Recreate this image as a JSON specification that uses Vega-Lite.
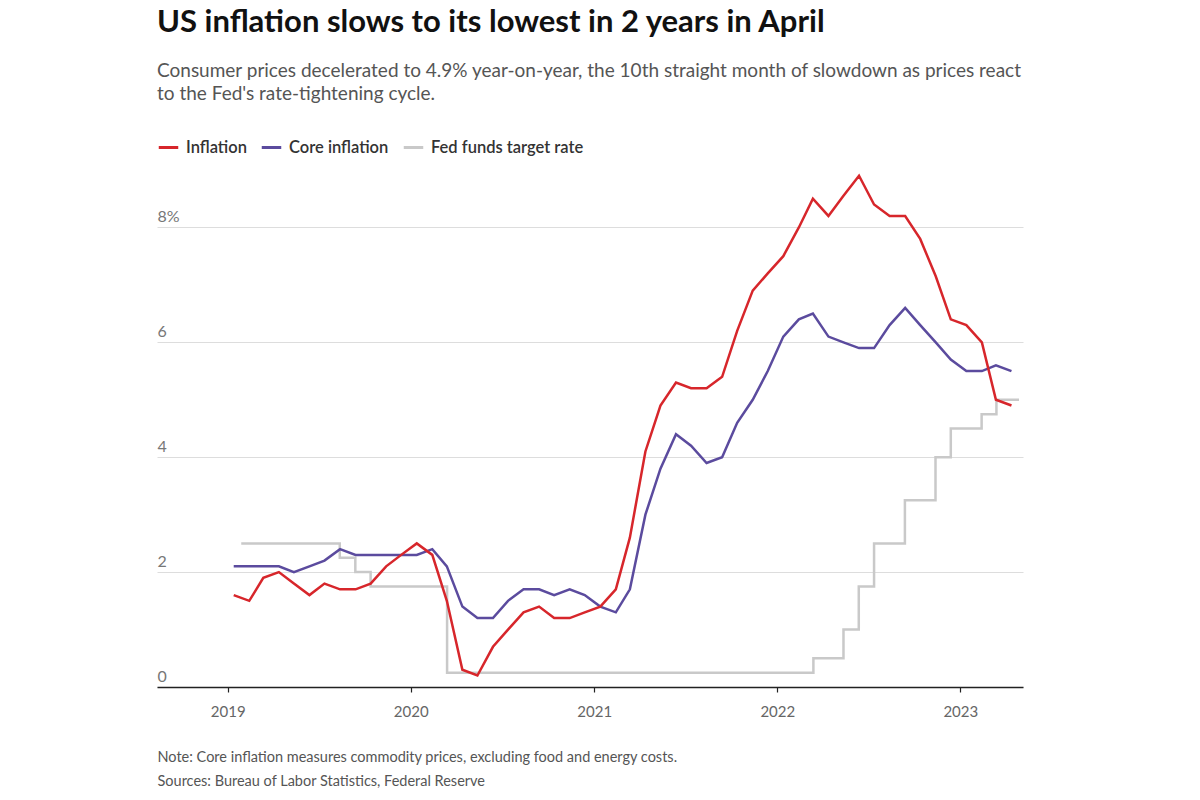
{
  "$schema": "https://vega.github.io/schema/vega-lite/v6.json",
  "width": 866,
  "height": 517,
  "autosize": {"type": "none"},
  "padding": {"left": 157, "top": 170, "right": 177, "bottom": 113},
  "background": "white",
  "config": {
    "view": {"stroke": null},
    "font": "Lato"
  },
  "title": {
    "text": "US inflation slows to its lowest in 2 years in April",
    "subtitle": [
      "Consumer prices decelerated to 4.9% year-on-year, the 10th straight month of slowdown as prices react",
      "to the Fed's rate-tightening cycle."
    ],
    "anchor": "start",
    "frame": "group",
    "font": "Lato",
    "fontSize": 31,
    "fontWeight": "bold",
    "color": "#111111",
    "subtitleFont": "Lato",
    "subtitleFontSize": 19,
    "subtitleColor": "#555555",
    "subtitleLineHeight": 23.5,
    "subtitlePadding": 23,
    "offset": 31
  },
  "data": {
    "values": [
      {"date": "2019-01-13", "series": "Inflation", "value": 1.6},
      {"date": "2019-02-13", "series": "Inflation", "value": 1.5},
      {"date": "2019-03-13", "series": "Inflation", "value": 1.9},
      {"date": "2019-04-13", "series": "Inflation", "value": 2.0},
      {"date": "2019-05-13", "series": "Inflation", "value": 1.8},
      {"date": "2019-06-13", "series": "Inflation", "value": 1.6},
      {"date": "2019-07-13", "series": "Inflation", "value": 1.8},
      {"date": "2019-08-13", "series": "Inflation", "value": 1.7},
      {"date": "2019-09-13", "series": "Inflation", "value": 1.7},
      {"date": "2019-10-13", "series": "Inflation", "value": 1.8},
      {"date": "2019-11-13", "series": "Inflation", "value": 2.1},
      {"date": "2019-12-13", "series": "Inflation", "value": 2.3},
      {"date": "2020-01-13", "series": "Inflation", "value": 2.5},
      {"date": "2020-02-13", "series": "Inflation", "value": 2.3},
      {"date": "2020-03-13", "series": "Inflation", "value": 1.5},
      {"date": "2020-04-13", "series": "Inflation", "value": 0.3},
      {"date": "2020-05-13", "series": "Inflation", "value": 0.2},
      {"date": "2020-06-13", "series": "Inflation", "value": 0.7},
      {"date": "2020-07-13", "series": "Inflation", "value": 1.0},
      {"date": "2020-08-13", "series": "Inflation", "value": 1.3},
      {"date": "2020-09-13", "series": "Inflation", "value": 1.4},
      {"date": "2020-10-13", "series": "Inflation", "value": 1.2},
      {"date": "2020-11-13", "series": "Inflation", "value": 1.2},
      {"date": "2020-12-13", "series": "Inflation", "value": 1.3},
      {"date": "2021-01-13", "series": "Inflation", "value": 1.4},
      {"date": "2021-02-13", "series": "Inflation", "value": 1.7},
      {"date": "2021-03-13", "series": "Inflation", "value": 2.6},
      {"date": "2021-04-13", "series": "Inflation", "value": 4.1},
      {"date": "2021-05-13", "series": "Inflation", "value": 4.9},
      {"date": "2021-06-13", "series": "Inflation", "value": 5.3},
      {"date": "2021-07-13", "series": "Inflation", "value": 5.2},
      {"date": "2021-08-13", "series": "Inflation", "value": 5.2},
      {"date": "2021-09-13", "series": "Inflation", "value": 5.4},
      {"date": "2021-10-13", "series": "Inflation", "value": 6.2},
      {"date": "2021-11-13", "series": "Inflation", "value": 6.9},
      {"date": "2021-12-13", "series": "Inflation", "value": 7.2},
      {"date": "2022-01-13", "series": "Inflation", "value": 7.5},
      {"date": "2022-02-13", "series": "Inflation", "value": 8.0},
      {"date": "2022-03-13", "series": "Inflation", "value": 8.5},
      {"date": "2022-04-13", "series": "Inflation", "value": 8.2},
      {"date": "2022-05-13", "series": "Inflation", "value": 8.55},
      {"date": "2022-06-13", "series": "Inflation", "value": 8.9},
      {"date": "2022-07-13", "series": "Inflation", "value": 8.4},
      {"date": "2022-08-13", "series": "Inflation", "value": 8.2},
      {"date": "2022-09-13", "series": "Inflation", "value": 8.2},
      {"date": "2022-10-13", "series": "Inflation", "value": 7.8},
      {"date": "2022-11-13", "series": "Inflation", "value": 7.15},
      {"date": "2022-12-13", "series": "Inflation", "value": 6.4},
      {"date": "2023-01-13", "series": "Inflation", "value": 6.3},
      {"date": "2023-02-13", "series": "Inflation", "value": 6.0},
      {"date": "2023-03-13", "series": "Inflation", "value": 5.0},
      {"date": "2023-04-13", "series": "Inflation", "value": 4.9},
      {"date": "2019-01-13", "series": "Core inflation", "value": 2.1},
      {"date": "2019-02-13", "series": "Core inflation", "value": 2.1},
      {"date": "2019-03-13", "series": "Core inflation", "value": 2.1},
      {"date": "2019-04-13", "series": "Core inflation", "value": 2.1},
      {"date": "2019-05-13", "series": "Core inflation", "value": 2.0},
      {"date": "2019-06-13", "series": "Core inflation", "value": 2.1},
      {"date": "2019-07-13", "series": "Core inflation", "value": 2.2},
      {"date": "2019-08-13", "series": "Core inflation", "value": 2.4},
      {"date": "2019-09-13", "series": "Core inflation", "value": 2.3},
      {"date": "2019-10-13", "series": "Core inflation", "value": 2.3},
      {"date": "2019-11-13", "series": "Core inflation", "value": 2.3},
      {"date": "2019-12-13", "series": "Core inflation", "value": 2.3},
      {"date": "2020-01-13", "series": "Core inflation", "value": 2.3},
      {"date": "2020-02-13", "series": "Core inflation", "value": 2.4},
      {"date": "2020-03-13", "series": "Core inflation", "value": 2.1},
      {"date": "2020-04-13", "series": "Core inflation", "value": 1.4},
      {"date": "2020-05-13", "series": "Core inflation", "value": 1.2},
      {"date": "2020-06-13", "series": "Core inflation", "value": 1.2},
      {"date": "2020-07-13", "series": "Core inflation", "value": 1.5},
      {"date": "2020-08-13", "series": "Core inflation", "value": 1.7},
      {"date": "2020-09-13", "series": "Core inflation", "value": 1.7},
      {"date": "2020-10-13", "series": "Core inflation", "value": 1.6},
      {"date": "2020-11-13", "series": "Core inflation", "value": 1.7},
      {"date": "2020-12-13", "series": "Core inflation", "value": 1.6},
      {"date": "2021-01-13", "series": "Core inflation", "value": 1.4},
      {"date": "2021-02-13", "series": "Core inflation", "value": 1.3},
      {"date": "2021-03-13", "series": "Core inflation", "value": 1.7},
      {"date": "2021-04-13", "series": "Core inflation", "value": 3.0},
      {"date": "2021-05-13", "series": "Core inflation", "value": 3.8},
      {"date": "2021-06-13", "series": "Core inflation", "value": 4.4},
      {"date": "2021-07-13", "series": "Core inflation", "value": 4.2},
      {"date": "2021-08-13", "series": "Core inflation", "value": 3.9},
      {"date": "2021-09-13", "series": "Core inflation", "value": 4.0},
      {"date": "2021-10-13", "series": "Core inflation", "value": 4.6},
      {"date": "2021-11-13", "series": "Core inflation", "value": 5.0},
      {"date": "2021-12-13", "series": "Core inflation", "value": 5.5},
      {"date": "2022-01-13", "series": "Core inflation", "value": 6.1},
      {"date": "2022-02-13", "series": "Core inflation", "value": 6.4},
      {"date": "2022-03-13", "series": "Core inflation", "value": 6.5},
      {"date": "2022-04-13", "series": "Core inflation", "value": 6.1},
      {"date": "2022-05-13", "series": "Core inflation", "value": 6.0},
      {"date": "2022-06-13", "series": "Core inflation", "value": 5.9},
      {"date": "2022-07-13", "series": "Core inflation", "value": 5.9},
      {"date": "2022-08-13", "series": "Core inflation", "value": 6.3},
      {"date": "2022-09-13", "series": "Core inflation", "value": 6.6},
      {"date": "2022-10-13", "series": "Core inflation", "value": 6.3},
      {"date": "2022-11-13", "series": "Core inflation", "value": 6.0},
      {"date": "2022-12-13", "series": "Core inflation", "value": 5.7},
      {"date": "2023-01-13", "series": "Core inflation", "value": 5.5},
      {"date": "2023-02-13", "series": "Core inflation", "value": 5.5},
      {"date": "2023-03-13", "series": "Core inflation", "value": 5.6},
      {"date": "2023-04-13", "series": "Core inflation", "value": 5.5},
      {"date": "2019-01-28", "series": "Fed funds target rate", "value": 2.5},
      {"date": "2019-02-28", "series": "Fed funds target rate", "value": 2.5},
      {"date": "2019-03-28", "series": "Fed funds target rate", "value": 2.5},
      {"date": "2019-04-28", "series": "Fed funds target rate", "value": 2.5},
      {"date": "2019-05-28", "series": "Fed funds target rate", "value": 2.5},
      {"date": "2019-06-28", "series": "Fed funds target rate", "value": 2.5},
      {"date": "2019-07-28", "series": "Fed funds target rate", "value": 2.5},
      {"date": "2019-08-28", "series": "Fed funds target rate", "value": 2.25},
      {"date": "2019-09-28", "series": "Fed funds target rate", "value": 2.0},
      {"date": "2019-10-28", "series": "Fed funds target rate", "value": 1.75},
      {"date": "2019-11-28", "series": "Fed funds target rate", "value": 1.75},
      {"date": "2019-12-28", "series": "Fed funds target rate", "value": 1.75},
      {"date": "2020-01-28", "series": "Fed funds target rate", "value": 1.75},
      {"date": "2020-02-28", "series": "Fed funds target rate", "value": 1.75},
      {"date": "2020-03-28", "series": "Fed funds target rate", "value": 0.25},
      {"date": "2020-04-28", "series": "Fed funds target rate", "value": 0.25},
      {"date": "2020-05-28", "series": "Fed funds target rate", "value": 0.25},
      {"date": "2020-06-28", "series": "Fed funds target rate", "value": 0.25},
      {"date": "2020-07-28", "series": "Fed funds target rate", "value": 0.25},
      {"date": "2020-08-28", "series": "Fed funds target rate", "value": 0.25},
      {"date": "2020-09-28", "series": "Fed funds target rate", "value": 0.25},
      {"date": "2020-10-28", "series": "Fed funds target rate", "value": 0.25},
      {"date": "2020-11-28", "series": "Fed funds target rate", "value": 0.25},
      {"date": "2020-12-28", "series": "Fed funds target rate", "value": 0.25},
      {"date": "2021-01-28", "series": "Fed funds target rate", "value": 0.25},
      {"date": "2021-02-28", "series": "Fed funds target rate", "value": 0.25},
      {"date": "2021-03-28", "series": "Fed funds target rate", "value": 0.25},
      {"date": "2021-04-28", "series": "Fed funds target rate", "value": 0.25},
      {"date": "2021-05-28", "series": "Fed funds target rate", "value": 0.25},
      {"date": "2021-06-28", "series": "Fed funds target rate", "value": 0.25},
      {"date": "2021-07-28", "series": "Fed funds target rate", "value": 0.25},
      {"date": "2021-08-28", "series": "Fed funds target rate", "value": 0.25},
      {"date": "2021-09-28", "series": "Fed funds target rate", "value": 0.25},
      {"date": "2021-10-28", "series": "Fed funds target rate", "value": 0.25},
      {"date": "2021-11-28", "series": "Fed funds target rate", "value": 0.25},
      {"date": "2021-12-28", "series": "Fed funds target rate", "value": 0.25},
      {"date": "2022-01-28", "series": "Fed funds target rate", "value": 0.25},
      {"date": "2022-02-28", "series": "Fed funds target rate", "value": 0.25},
      {"date": "2022-03-28", "series": "Fed funds target rate", "value": 0.5},
      {"date": "2022-04-28", "series": "Fed funds target rate", "value": 0.5},
      {"date": "2022-05-28", "series": "Fed funds target rate", "value": 1.0},
      {"date": "2022-06-28", "series": "Fed funds target rate", "value": 1.75},
      {"date": "2022-07-28", "series": "Fed funds target rate", "value": 2.5},
      {"date": "2022-08-28", "series": "Fed funds target rate", "value": 2.5},
      {"date": "2022-09-28", "series": "Fed funds target rate", "value": 3.25},
      {"date": "2022-10-28", "series": "Fed funds target rate", "value": 3.25},
      {"date": "2022-11-28", "series": "Fed funds target rate", "value": 4.0},
      {"date": "2022-12-28", "series": "Fed funds target rate", "value": 4.5},
      {"date": "2023-01-28", "series": "Fed funds target rate", "value": 4.5},
      {"date": "2023-02-28", "series": "Fed funds target rate", "value": 4.75},
      {"date": "2023-03-28", "series": "Fed funds target rate", "value": 5.0},
      {"date": "2023-04-28", "series": "Fed funds target rate", "value": 5.0}
    ]
  },
  "encoding": {
    "x": {
      "field": "date",
      "type": "temporal",
      "scale": {"type": "utc", "domain": ["2018-08-13", "2023-05-06"]},
      "axis": {
        "format": "%Y",
        "tickCount": {"interval": "year", "step": 1},
        "grid": false,
        "domainColor": "#222222",
        "domainWidth": 1.5,
        "tickColor": "#222222",
        "tickSize": 5,
        "tickWidth": 1.2,
        "labelFont": "Lato",
        "labelFontSize": 15,
        "labelColor": "#666666",
        "labelPadding": 12,
        "labelFlush": false,
        "title": [
          "Note: Core inflation measures commodity prices, excluding food and energy costs.",
          "Sources: Bureau of Labor Statistics, Federal Reserve"
        ],
        "titleFont": "Lato",
        "titleFontSize": 14.5,
        "titleFontWeight": "normal",
        "titleColor": "#555555",
        "titleAnchor": "start",
        "titleAlign": "left",
        "titleBaseline": "alphabetic",
        "titleX": 0,
        "titleY": 74,
        "titleLineHeight": 24
      }
    },
    "y": {
      "field": "value",
      "type": "quantitative",
      "scale": {"domain": [0, 9], "nice": false, "zero": true},
      "axis": {
        "values": [0, 2, 4, 6, 8],
        "labelExpr": "datum.value == 8 ? '8%' : datum.label",
        "domain": false,
        "ticks": false,
        "tickSize": 0,
        "grid": true,
        "gridColor": "#dddddd",
        "gridWidth": 1,
        "labelAlign": "left",
        "labelBaseline": "alphabetic",
        "labelPadding": 0,
        "labelOffset": -6,
        "labelFlush": false,
        "labelOverlap": false,
        "labelFont": "Lato",
        "labelFontSize": 16,
        "labelColor": "#777777",
        "title": null
      }
    },
    "color": {
      "field": "series",
      "type": "nominal",
      "scale": {
        "domain": ["Inflation", "Core inflation", "Fed funds target rate"],
        "range": ["#d7262b", "#5b4b9e", "#c9c9c9"]
      },
      "legend": {
        "orient": "none",
        "legendX": 0,
        "legendY": -34,
        "direction": "horizontal",
        "title": null,
        "symbolType": "stroke",
        "symbolStrokeWidth": 3,
        "symbolSize": 380,
        "labelFont": "Lato",
        "labelFontSize": 16.5,
        "labelFontWeight": 600,
        "labelColor": "#333333",
        "labelOffset": 6,
        "columnPadding": 8
      }
    }
  },
  "layer": [
    {
      "transform": [{"filter": "datum.series == 'Fed funds target rate'"}],
      "mark": {"type": "line", "interpolate": "step", "strokeWidth": 2.5}
    },
    {
      "transform": [{"filter": "datum.series == 'Core inflation'"}],
      "mark": {"type": "line", "strokeWidth": 2.5}
    },
    {
      "transform": [{"filter": "datum.series == 'Inflation'"}],
      "mark": {"type": "line", "strokeWidth": 2.5}
    }
  ]
}
